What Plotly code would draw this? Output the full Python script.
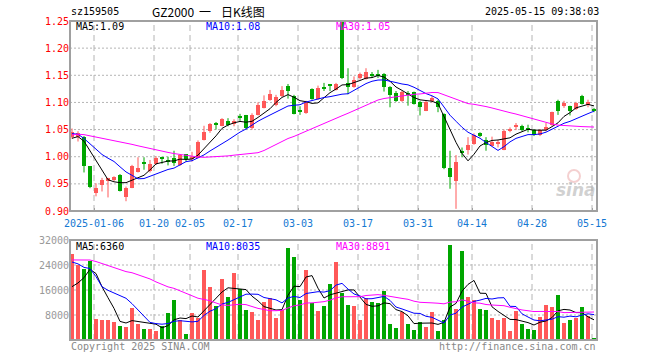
import plotly.graph_objects as go
import pandas as pd

# ---------------- data ----------------
dates = [
    "2024-12-30", "2024-12-31", "2025-01-02", "2025-01-03",
    "2025-01-06", "2025-01-07", "2025-01-08", "2025-01-09", "2025-01-10",
    "2025-01-13", "2025-01-14", "2025-01-15", "2025-01-16", "2025-01-17",
    "2025-01-20", "2025-01-21", "2025-01-22", "2025-01-23", "2025-01-24",
    "2025-01-27",
    "2025-02-05", "2025-02-06", "2025-02-07",
    "2025-02-10", "2025-02-11", "2025-02-12", "2025-02-13", "2025-02-14",
    "2025-02-17", "2025-02-18", "2025-02-19", "2025-02-20", "2025-02-21",
    "2025-02-24", "2025-02-25", "2025-02-26", "2025-02-27", "2025-02-28",
    "2025-03-03", "2025-03-04", "2025-03-05", "2025-03-06", "2025-03-07",
    "2025-03-10", "2025-03-11", "2025-03-12", "2025-03-13", "2025-03-14",
    "2025-03-17", "2025-03-18", "2025-03-19", "2025-03-20", "2025-03-21",
    "2025-03-24", "2025-03-25", "2025-03-26", "2025-03-27", "2025-03-28",
    "2025-03-31",
    "2025-04-01", "2025-04-02", "2025-04-03",
    "2025-04-07", "2025-04-08", "2025-04-09", "2025-04-10", "2025-04-11",
    "2025-04-14", "2025-04-15", "2025-04-16", "2025-04-17", "2025-04-18",
    "2025-04-21", "2025-04-22", "2025-04-23", "2025-04-24", "2025-04-25",
    "2025-04-28", "2025-04-29", "2025-04-30",
    "2025-05-06", "2025-05-07", "2025-05-08", "2025-05-09",
    "2025-05-12", "2025-05-13", "2025-05-14", "2025-05-15",
]

open_ = [
    1.037, 1.036, 1.037, 0.982, 0.933, 0.948, 0.957, 0.958, 0.967, 0.925,
    0.943, 0.971, 0.989, 0.973, 0.987, 1.000, 0.994, 0.998, 0.985, 1.005,
    0.996, 0.998, 1.031, 1.047, 1.062, 1.057, 1.066, 1.060, 1.075, 1.076,
    1.053, 1.077, 1.090, 1.105, 1.096, 1.111, 1.131, 1.111, 1.085, 1.081,
    1.125, 1.107, 1.128, 1.134, 1.123, 1.248, 1.135, 1.129, 1.145, 1.144,
    1.151, 1.152, 1.152, 1.128, 1.117, 1.103, 1.117, 1.119, 1.100, 1.085,
    1.103, 1.102, 1.079, 0.979, 0.956, 1.009, 1.013, 1.023, 1.044, 1.031,
    1.020, 1.024, 1.013, 1.049, 1.055, 1.057, 1.052, 1.050, 1.040, 1.049,
    1.058, 1.103, 1.094, 1.094, 1.087, 1.112, 1.096, 1.086,
]
high = [
    1.052, 1.047, 1.038, 0.982, 0.951, 0.961, 0.961, 0.964, 0.968, 0.945,
    0.985, 0.999, 0.999, 0.994, 1.001, 1.000, 1.000, 1.011, 1.005, 1.005,
    1.009, 1.030, 1.057, 1.062, 1.064, 1.071, 1.071, 1.069, 1.079, 1.077,
    1.080, 1.100, 1.113, 1.123, 1.114, 1.130, 1.134, 1.114, 1.093, 1.103,
    1.126, 1.131, 1.136, 1.134, 1.136, 1.250, 1.163, 1.148, 1.155, 1.163,
    1.156, 1.160, 1.154, 1.130, 1.121, 1.121, 1.121, 1.120, 1.103, 1.103,
    1.112, 1.105, 1.080, 1.011, 1.003, 1.017, 1.036, 1.043, 1.045, 1.036,
    1.037, 1.031, 1.050, 1.054, 1.062, 1.059, 1.059, 1.051, 1.051, 1.062,
    1.083, 1.105, 1.103, 1.094, 1.101, 1.114, 1.105, 1.090,
]
low = [
    1.033, 1.028, 0.971, 0.942, 0.927, 0.936, 0.925, 0.955, 0.936, 0.918,
    0.942, 0.971, 0.976, 0.971, 0.985, 0.987, 0.984, 0.983, 0.983, 0.991,
    0.991, 0.997, 1.030, 1.044, 1.050, 1.056, 1.056, 1.056, 1.066, 1.050,
    1.050, 1.076, 1.089, 1.103, 1.093, 1.110, 1.107, 1.078, 1.077, 1.079,
    1.105, 1.105, 1.121, 1.121, 1.122, 1.143, 1.115, 1.127, 1.142, 1.142,
    1.145, 1.145, 1.120, 1.091, 1.101, 1.101, 1.094, 1.096, 1.076, 1.084,
    1.100, 1.082, 0.977, 0.941, 0.904, 0.999, 1.004, 1.022, 1.036, 1.011,
    1.020, 1.017, 1.012, 1.045, 1.049, 1.047, 1.045, 1.038, 1.038, 1.047,
    1.057, 1.077, 1.090, 1.076, 1.086, 1.096, 1.091, 1.082,
]
close = [
    1.046, 1.043, 0.982, 0.945, 0.943, 0.958, 0.960, 0.963, 0.937, 0.943,
    0.983, 0.979, 0.987, 0.987, 0.998, 0.996, 0.992, 0.988, 1.004, 0.995,
    1.000, 1.028, 1.045, 1.060, 1.059, 1.069, 1.059, 1.065, 1.073, 1.052,
    1.077, 1.095, 1.103, 1.115, 1.110, 1.123, 1.121, 1.079, 1.083, 1.101,
    1.107, 1.126, 1.126, 1.130, 1.134, 1.145, 1.129, 1.142, 1.152, 1.156,
    1.150, 1.148, 1.128, 1.113, 1.103, 1.119, 1.113, 1.097, 1.092, 1.100,
    1.109, 1.091, 0.979, 0.962, 0.991, 1.008, 1.022, 1.040, 1.038, 1.022,
    1.028, 1.026, 1.048, 1.050, 1.056, 1.049, 1.050, 1.040, 1.050, 1.055,
    1.082, 1.085, 1.099, 1.085, 1.099, 1.098, 1.101, 1.085,
]
volume = [
    27520, 24000, 22720, 25390, 6720, 6400, 6400, 5760, 4480, 4160,
    10240, 5120, 3520, 3520, 2880, 4480, 8640, 12800, 6400, 1920,
    8640, 7040, 22400, 16960, 10880, 19520, 13760, 21440, 16320, 9600,
    8960, 6400, 12160, 13440, 7040, 9600, 29440, 26560, 12800, 22400,
    11840, 9280, 10880, 17920, 24960, 15150, 11200, 10880, 6400, 13330,
    12160, 11840, 15680, 5120, 3840, 8960, 5120, 3200, 5760, 4160,
    8960, 2880, 6400, 30400, 9920, 28480, 13760, 12800, 9920, 9600,
    7040, 6400, 7040, 2880, 9280, 5120, 3520, 3200, 7360, 11200,
    10560, 14400, 5440, 6400, 7040, 10560, 7680, 640,
]
# sessions before the visible window, estimated from where the MA lines start
prior_close = [
    1.000, 1.005, 1.012, 1.020, 1.008, 1.015, 1.018, 1.013,
    1.035, 1.048, 1.060, 1.066, 1.072, 1.063, 1.058, 1.065, 1.052, 1.060,
    1.055, 1.049, 1.055, 1.060, 1.048, 1.050, 1.043, 1.028, 1.024, 1.035,
    1.037,
]
prior_volume = [
    22000, 26000, 25000, 21000, 27000, 24000, 23000, 26000, 24000,
    21000, 24000, 22000, 26000, 31000, 28000, 33000, 27000, 30000, 32000,
    27000, 30000, 34000, 29000, 32700, 38600, 18000, 14300, 12000, 13500,
]

tick_dates = ["2025-01-06", "2025-01-20", "2025-02-05", "2025-02-17", "2025-03-03",
              "2025-03-17", "2025-03-31", "2025-04-14", "2025-04-28", "2025-05-15"]
tick_text = ["2025-01-06", "01-20", "02-05", "02-17", "03-03",
             "03-17", "03-31", "04-14", "04-28", "05-15"]
price_ticks = [0.90, 0.95, 1.00, 1.05, 1.10, 1.15, 1.20, 1.25]
vol_ticks = [8000, 16000, 24000, 32000]
ma_periods = [5, 10, 30]
ma_price_text = ["1.09", "1.08", "1.05"]
ma_vol_text = ["6360", "8035", "8891"]

# ---------------- styling ----------------
W, H = 660, 360
L, R, T, B = 70, 597, 21, 340          # plot area in pixels
MAIN_BOTTOM, VOL_TOP = 211, 240
RED, GREEN = "#ff5858", "#00a600"
MA_COLORS = ["#000000", "#0000ff", "#ff00ff"]
MONO = "DejaVu Sans Mono"
CJK = "Noto Sans CJK SC"
FRAME = "#a0a0a0"
GRID = "#b4b4b4"

n = len(dates)
idx = list(range(n))
up = [c >= o for o, c in zip(open_, close)]
colors = [RED if u else GREEN for u in up]

c_all = pd.Series(prior_close + close)
v_all = pd.Series(prior_volume + volume)
np_ = len(prior_close)
ma_price = [c_all.rolling(p).mean().iloc[np_:].tolist() for p in ma_periods]
ma_vol = [v_all.rolling(p).mean().iloc[np_:].tolist() for p in ma_periods]

ph = B - T
main_dom = [(B - MAIN_BOTTOM) / ph, 1.0]
vol_dom = [0.0, (B - VOL_TOP) / ph]


def pxx(x):
    return (x - L) / (R - L)


def pyy(y):
    return (B - y) / ph


fig = go.Figure()

# wicks
for col, flag in ((RED, True), (GREEN, False)):
    xs, ys = [], []
    for i in idx:
        if up[i] == flag:
            xs += [i, i, None]
            ys += [low[i], high[i], None]
    fig.add_trace(go.Scatter(x=xs, y=ys, mode="lines", line=dict(color=col, width=1),
                             hoverinfo="skip", showlegend=False, xaxis="x", yaxis="y"))

# bodies
base = [min(o, c) for o, c in zip(open_, close)]
hgt = [max(abs(c - o), 0.002) for o, c in zip(open_, close)]
fig.add_trace(go.Bar(x=idx, y=hgt, base=base, width=0.78,
                     marker=dict(color=colors, line=dict(width=0)),
                     showlegend=False, xaxis="x", yaxis="y"))

# price MAs
for ma, col in zip(ma_price, MA_COLORS):
    fig.add_trace(go.Scatter(x=idx, y=ma, mode="lines", line=dict(color=col, width=1),
                             showlegend=False, xaxis="x", yaxis="y"))

# volume
fig.add_trace(go.Bar(x=idx, y=volume, width=0.8,
                     marker=dict(color=colors, line=dict(width=0)),
                     showlegend=False, xaxis="x2", yaxis="y2"))
for ma, col in zip(ma_vol, MA_COLORS):
    fig.add_trace(go.Scatter(x=idx, y=ma, mode="lines", line=dict(color=col, width=1),
                             showlegend=False, xaxis="x2", yaxis="y2"))

tickpos = [dates.index(d) - 1 / 3 for d in tick_dates]
xr = [-1 / 3, n - 0.5]

shapes = []
# dashed vertical grid in both panels
for t in tickpos:
    for yref in ("y domain", "y2 domain"):
        shapes.append(dict(type="line", xref="x", yref=yref, x0=t, x1=t, y0=0, y1=1,
                           line=dict(color=GRID, width=1, dash="6px,4px"), layer="below"))
# dotted horizontal grid
for p in price_ticks[1:-1]:
    shapes.append(dict(type="line", xref="x domain", yref="y", x0=0, x1=1, y0=p, y1=p,
                       line=dict(color=GRID, width=1, dash="2px,2px"), layer="below"))
for v in vol_ticks[:-1]:
    shapes.append(dict(type="line", xref="x2 domain", yref="y2", x0=0, x1=1, y0=v, y1=v,
                       line=dict(color=GRID, width=1, dash="2px,2px"), layer="below"))
# frames
for dom in (main_dom, vol_dom):
    shapes.append(dict(type="rect", xref="paper", yref="paper", x0=0, x1=1, y0=dom[0], y1=dom[1],
                       line=dict(color=FRAME, width=2), fillcolor="rgba(0,0,0,0)"))
# watermark eye
shapes.append(dict(type="circle", xref="paper", yref="paper",
                   x0=pxx(568), x1=pxx(580), y0=pyy(182), y1=pyy(170),
                   line=dict(color="rgba(230,150,150,0.45)", width=2)))

ann = []


def text(x, y, s, color="#000", size=10, family=MONO, xanchor="left"):
    ann.append(dict(x=pxx(x), y=pyy(y), xref="paper", yref="paper", text=s, showarrow=False,
                    xanchor=xanchor, yanchor="middle",
                    font=dict(family=family, size=size, color=color)))


text(69, 12, "sz159505")
text(150, 12, "GZ2000", size=12, family=CJK)
text(205, 12, "一", size=12, family=CJK, xanchor="center")
text(219, 12, "日K线图", size=12, family=CJK)
text(601, 12, "2025-05-15 09:38:03", xanchor="right")
for x, lab, val, col in zip((74, 204, 334), ("MA5:", "MA10:", "MA30:"), ma_price_text, MA_COLORS):
    text(x, 27, lab + val, color=col)
for x, lab, val, col in zip((74, 204, 334), ("MA5:", "MA10:", "MA30:"), ma_vol_text, MA_COLORS):
    text(x, 247, lab + val, color=col)
text(69, 346, "Copyright 2025 SINA.COM", color="#888888")
text(598, 346, "http://finance.sina.com.cn", color="#888888", xanchor="right")
text(576, 190, "<b><i>sina</i></b>", color="rgba(170,170,170,0.55)", size=17,
     family="DejaVu Sans", xanchor="center")

fig.update_layout(
    width=W, height=H,
    margin=dict(l=L, r=W - R, t=T, b=H - B, pad=0),
    paper_bgcolor="white", plot_bgcolor="white",
    showlegend=False, bargap=0,
    shapes=shapes, annotations=ann,
    xaxis=dict(domain=[0, 1], range=xr, anchor="y", showgrid=False, zeroline=False,
               showline=False, tickmode="array", tickvals=tickpos, ticktext=tick_text,
               ticks="inside", ticklen=3, tickcolor=FRAME, ticklabelstandoff=5,
               tickfont=dict(family=MONO, size=10, color="#1478d2")),
    yaxis=dict(domain=main_dom, range=[0.90, 1.25], showgrid=False, zeroline=False,
               showline=False, tickmode="array", tickvals=price_ticks,
               ticktext=[f"{p:.2f}" for p in price_ticks], ticks="",
               tickfont=dict(family=MONO, size=10, color="#ff0000")),
    xaxis2=dict(domain=[0, 1], range=xr, anchor="y2", matches="x", showgrid=False,
                zeroline=False, showline=False, showticklabels=False, ticks=""),
    yaxis2=dict(domain=vol_dom, range=[0, 32000], showgrid=False, zeroline=False,
                showline=False, tickmode="array", tickvals=vol_ticks,
                ticktext=[str(v) for v in vol_ticks], ticks="",
                tickfont=dict(family=MONO, size=10, color="#999999")),
)

fig.write_html("out.html", config={"displayModeBar": False},
               post_script="document.body.style.margin='0';")
